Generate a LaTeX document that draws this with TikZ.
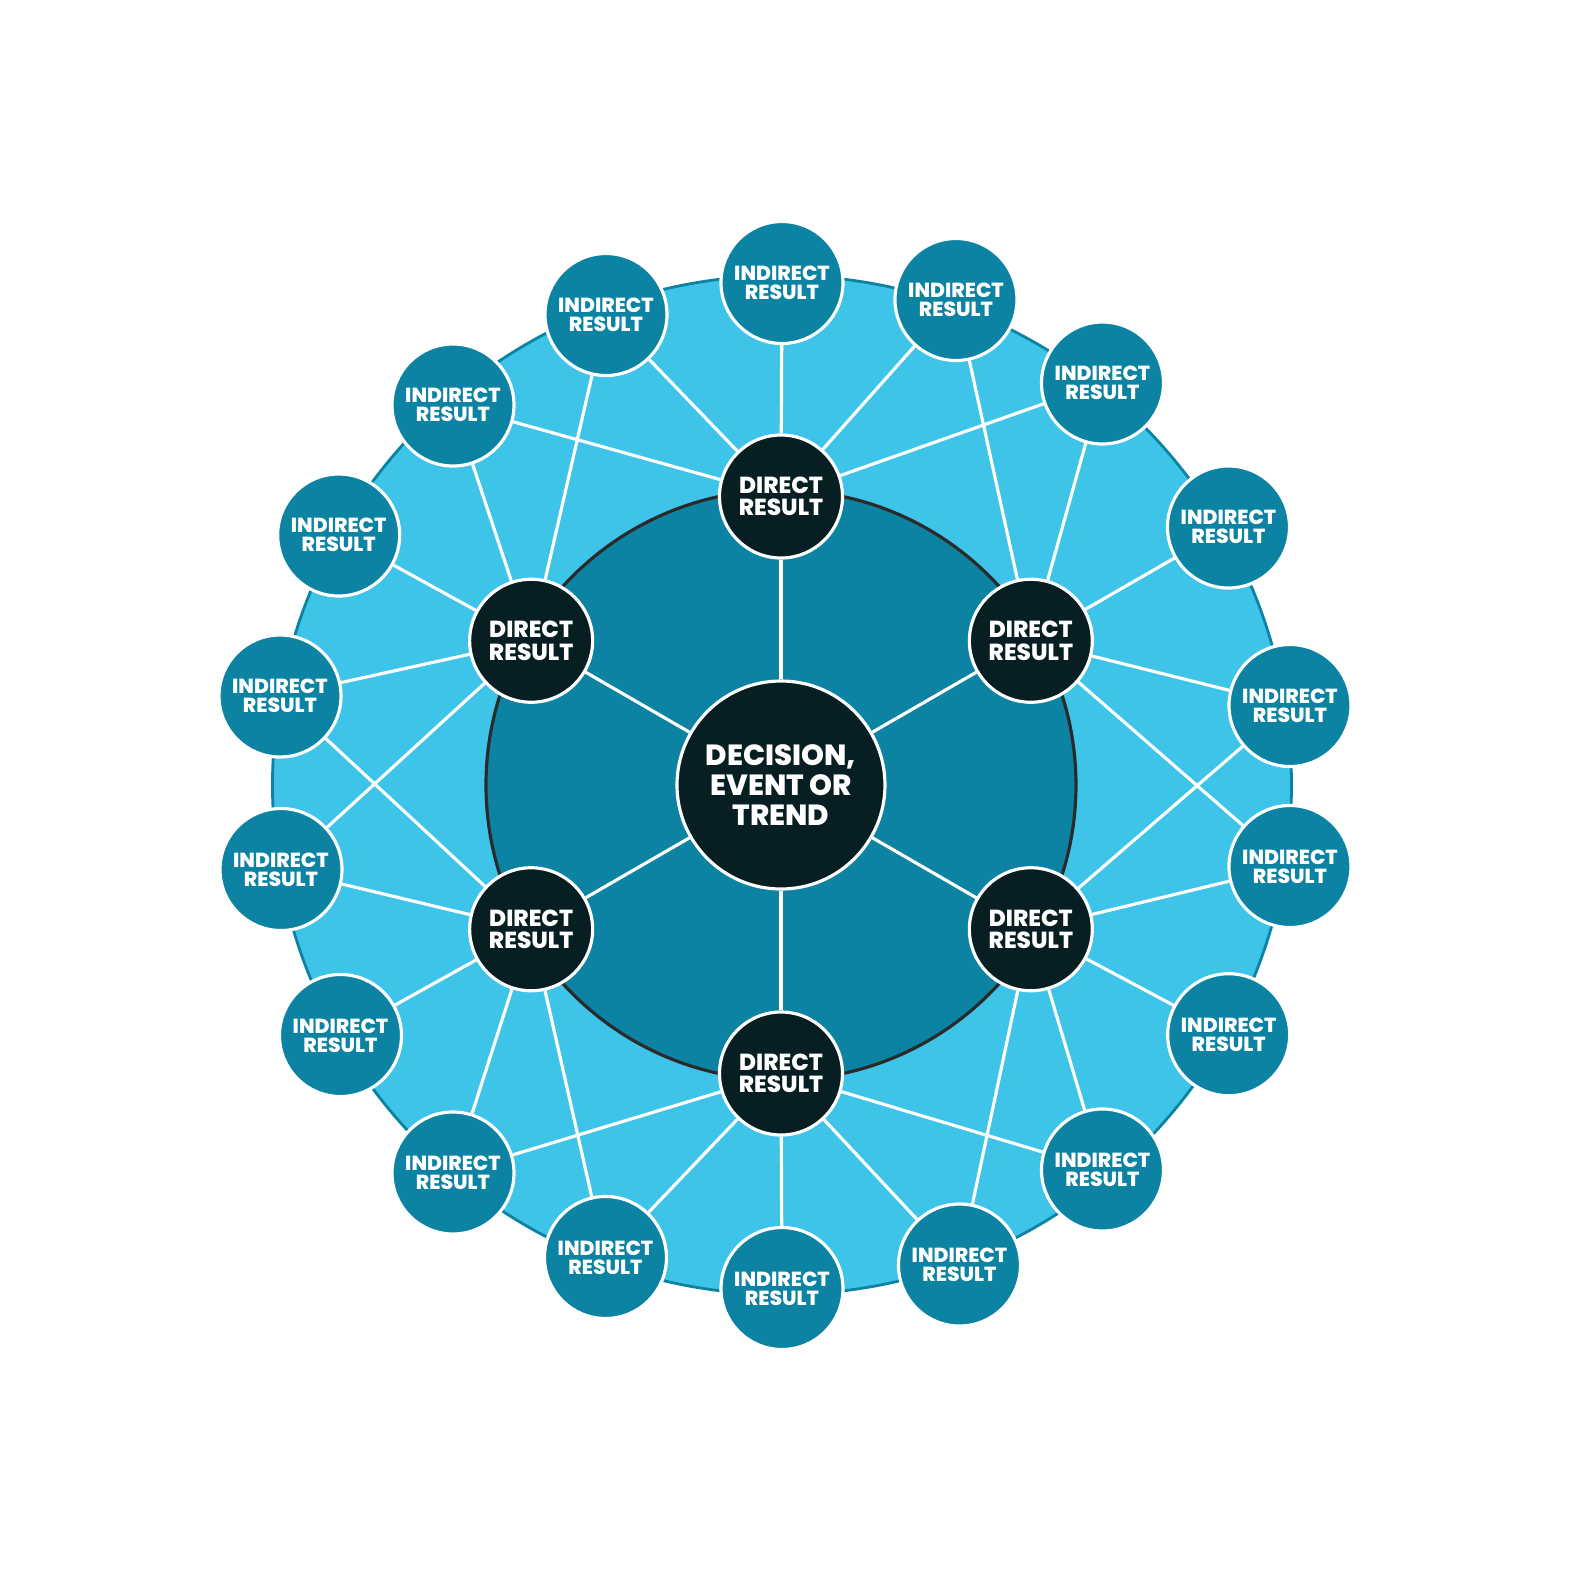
\documentclass[tikz,border=0pt]{standalone}
\usepackage{fontspec}
\setmainfont{Poppins}[BoldFont={Poppins ExtraBold}]
\definecolor{skyring}{HTML}{3EC4E8}
\definecolor{deepteal}{HTML}{0C83A2}
\definecolor{nightteal}{HTML}{071F22}
\definecolor{rimgray}{HTML}{2A2A2A}
\tikzset{
  bubble/.style={circle, draw=white, line width=0.9pt, inner sep=0pt, text=white, align=center},
  indirect/.style={bubble, fill=deepteal, minimum size=1.22cm, font=\bfseries\fontsize{5.8}{5.4}\selectfont},
  direct/.style={bubble, fill=nightteal, minimum size=1.23cm, font=\bfseries\fontsize{6.6}{6.4}\selectfont},
  hub/.style={bubble, fill=nightteal, minimum size=2.08cm, font=\bfseries\fontsize{8.3}{8.5}\selectfont},
  link/.style={white, line width=0.9pt}
}
\begin{document}
\begin{tikzpicture}
  \useasboundingbox (-7.81,-7.87) rectangle (7.91,7.85);
  % rings
  \draw[deepteal, line width=0.8pt, fill=skyring] (0.01,0) circle (5.095);
  \draw[rimgray, line width=0.9pt, fill=deepteal] (0,0) circle (2.95);
  % nodes
  \node[hub] (trend) at (0,0) {DECISION,\\EVENT OR\\TREND};
  \foreach \j in {0,...,5}
    \node[direct] (dir\j) at ({90-60*\j}:2.885) {DIRECT\\RESULT};
  \foreach \i/\x/\y in {0/0.01/5.025, 1/1.75/4.855, 2/3.215/4.02, 3/4.475/2.58,
      4/5.09/0.795, 5/5.09/-0.815, 6/4.477/-2.497, 7/3.215/-3.85, 8/1.785/-4.80,
      9/0.01/-5.035, 10/-1.755/-4.725, 11/-3.28/-3.88, 12/-4.405/-2.505,
      13/-5.00/-0.845, 14/-5.01/0.89, 15/-4.423/2.50, 16/-3.28/3.80, 17/-1.75/4.705}
    \node[indirect] (ind\i) at (\x,\y) {INDIRECT\\RESULT};
  % connectors
  \foreach \j in {0,...,5} {
    \draw[link] (trend) -- (dir\j);
    \foreach \k in {-2,...,2} {
      \pgfmathtruncatemacro\m{mod(3*\j+\k+18,18)}
      \draw[link] (dir\j) -- (ind\m);
    }
  }
\end{tikzpicture}
\end{document}
